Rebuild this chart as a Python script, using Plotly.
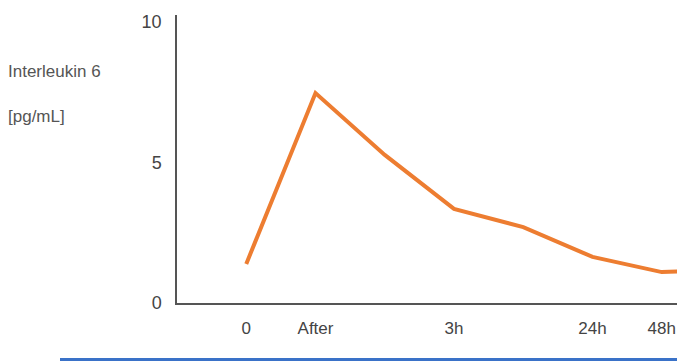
import plotly.graph_objects as go

categories = ["0", "After", "1h", "3h", "6h", "24h", "48h", "72h"]
tick_labels = ["0", "After", "", "3h", "", "24h", "48h", ""]
il6_values = [1.39, 7.47, 5.27, 3.35, 2.70, 1.64, 1.10, 1.20]

x_pos = list(range(len(categories)))

fig = go.Figure()
fig.add_trace(go.Scatter(
    x=x_pos, y=il6_values, mode="lines",
    line=dict(color="#ED7D31", width=4),
    hoverinfo="skip", showlegend=False,
))

fig.update_layout(
    width=677, height=361,
    margin=dict(l=177, r=0, t=15, b=58),
    paper_bgcolor="white", plot_bgcolor="white",
    font=dict(family="Liberation Sans, Arial, sans-serif", size=17, color="#444444"),
    xaxis=dict(
        range=[-1, 6.22], tickvals=x_pos, ticktext=tick_labels,
        showgrid=False, zeroline=False, showline=True,
        linecolor="#555555", linewidth=1.5,
        ticks="", ticklabelstandoff=9,
        tickfont=dict(size=17, color="#444444"),
    ),
    yaxis=dict(
        range=[0, 10.25], tickvals=[0, 5, 10],
        showgrid=False, zeroline=False, showline=True,
        linecolor="#555555", linewidth=1.5,
        ticks="", ticklabelstandoff=10,
        tickfont=dict(size=18, color="#444444"),
    ),
    shapes=[dict(
        type="rect", xref="paper", yref="paper",
        x0=-117/500, x1=1.0, y0=-55/288, y1=-58/288,
        fillcolor="#3A72C8", line=dict(width=0), layer="above",
    )],
    annotations=[
        dict(text="Interleukin 6", xref="paper", yref="paper",
             x=-171/500, y=(303-71)/288, xanchor="left", yanchor="middle",
             showarrow=False, font=dict(size=17, color="#555555")),
        dict(text="[pg/mL]", xref="paper", yref="paper",
             x=-171/500, y=(303-117)/288, xanchor="left", yanchor="middle",
             showarrow=False, font=dict(size=17, color="#555555")),
    ],
)

fig.write_html(
    "out.html",
    config={"displayModeBar": False},
    post_script="document.body.style.margin='0';document.body.style.overflow='hidden';",
)
